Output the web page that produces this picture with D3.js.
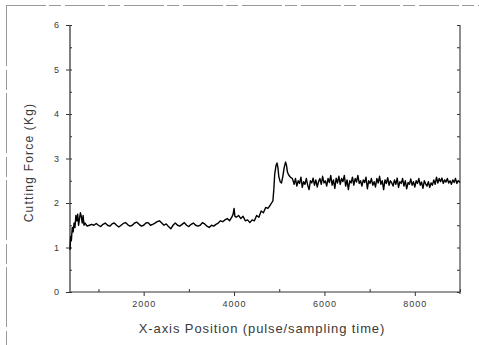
<!DOCTYPE html>
<html><head><meta charset="utf-8">
<script src="https://cdn.jsdelivr.net/npm/d3@7"></script>
<style>
html,body{margin:0;padding:0;background:#fff;}
svg{display:block;}
text{font-family:"Liberation Sans",Arial,sans-serif;fill:#3a3a3a;}
</style></head>
<body>
<svg id="chart" width="479" height="345"></svg>
<script>
// ---- data ----
const xTicks = [2000, 4000, 6000, 8000];
const xMinorTicks = [1000, 3000, 5000, 7000, 9000];
const yTicks = [0, 1, 2, 3, 4, 5, 6];
const yMinorTicks = [0.5, 1.5, 2.5, 3.5, 4.5, 5.5];
const xTitle = "X-axis Position (pulse/sampling time)";
const yTitle = "Cutting Force (Kg)";

// smooth/transition part
const posA = [370,385,400,420,440,460,480,500,520,540,560,580,600,620,640,660,680,700,750,800,850,900,950,1000,1050,1100,1150,1200,1250,1300,1350,1400,1450,1500,1550,1600,1650,1700,1750,1800,1850,1900,1950,2000,2050,2100,2150,2200,2250,2300,2350,2400,2450,2500,2550,2600,2650,2700,2750,2800,2850,2900,2950,3000,3050,3100,3150,3200,3250,3300,3350,3400,3450,3500,3550,3600,3650,3700,3750,3800,3850,3900,3950,3980,4000,4020,4050,4100,4150,4200,4250,4300,4350,4400,4450,4500,4550,4600,4650,4700,4750,4800,4830,4860,4880,4900,4930,4950,4970,4990,5020,5050,5080,5110,5140,5160,5180,5200,5230,5260,5290];
const forceA = [0.95,1.25,1.15,1.45,1.35,1.55,1.45,1.72,1.6,1.75,1.5,1.65,1.78,1.7,1.55,1.72,1.5,1.55,1.48,1.5,1.52,1.5,1.54,1.5,1.47,1.52,1.55,1.5,1.48,1.53,1.55,1.5,1.46,1.5,1.54,1.56,1.51,1.48,1.5,1.55,1.57,1.52,1.48,1.5,1.55,1.56,1.5,1.52,1.55,1.58,1.6,1.55,1.5,1.53,1.47,1.42,1.5,1.55,1.5,1.48,1.52,1.56,1.5,1.47,1.52,1.55,1.5,1.48,1.5,1.56,1.53,1.48,1.45,1.5,1.48,1.52,1.55,1.6,1.58,1.62,1.65,1.6,1.68,1.75,1.88,1.7,1.68,1.72,1.65,1.7,1.6,1.62,1.56,1.62,1.6,1.72,1.68,1.82,1.78,1.9,1.88,1.95,2.0,2.05,2.3,2.65,2.85,2.9,2.8,2.6,2.48,2.45,2.6,2.8,2.92,2.85,2.7,2.65,2.6,2.57,2.55];

// noisy steady-state part
const posB = [5300,5330,5360,5390,5420,5450,5480,5510,5540,5570,5600,5630,5660,5690,5720,5750,5780,5810,5840,5870,5900,5930,5960,5990,6020,6050,6080,6110,6140,6170,6200,6230,6260,6290,6320,6350,6380,6410,6440,6470,6500,6530,6560,6590,6620,6650,6680,6710,6740,6770,6800,6830,6860,6890,6920,6950,6980,7010,7040,7070,7100,7130,7160,7190,7220,7250,7280,7310,7340,7370,7400,7430,7460,7490,7520,7550,7580,7610,7640,7670,7700,7730,7760,7790,7820,7850,7880,7910,7940,7970,8000,8030,8060,8090,8120,8150,8180,8210,8240,8270,8300,8330,8360,8390,8420,8450,8480,8510,8540,8570,8600,8630,8660,8690,8720,8750,8780,8810,8840,8870,8900,8930,8960,8990,9000];
const forceB = [2.52,2.42,2.55,2.38,2.5,2.44,2.58,2.35,2.48,2.42,2.55,2.4,2.3,2.5,2.45,2.56,2.4,2.52,2.36,2.48,2.55,2.42,2.6,2.45,2.5,2.38,2.55,2.46,2.62,2.4,2.52,2.33,2.56,2.45,2.6,2.42,2.55,2.48,2.62,2.38,2.52,2.3,2.5,2.45,2.58,2.4,2.55,2.47,2.62,2.44,2.5,2.38,2.52,2.46,2.58,2.32,2.5,2.44,2.55,2.4,2.48,2.36,2.55,2.45,2.6,2.42,2.5,2.3,2.52,2.44,2.57,2.4,2.5,2.45,2.38,2.52,2.42,2.56,2.35,2.48,2.44,2.55,2.38,2.5,2.32,2.46,2.42,2.54,2.4,2.48,2.36,2.5,2.44,2.55,2.4,2.47,2.33,2.5,2.43,2.38,2.48,2.35,2.45,2.4,2.52,2.42,2.58,2.45,2.55,2.48,2.56,2.44,2.52,2.47,2.55,2.45,2.5,2.42,2.52,2.46,2.55,2.44,2.5,2.47,2.48];

// ---- drawing ----
const svg = d3.select("#chart");
const L = 70, R = 460, T = 25, B = 292;
const x = d3.scaleLinear().domain([370, 9000]).range([L, R]);
const y = d3.scaleLinear().domain([0, 6]).range([B, T]);

// outer scan frame
svg.append("line").attr("x1",6).attr("x2",479).attr("y1",5.5).attr("y2",5.5)
  .attr("stroke","#999").attr("stroke-dasharray","40,3,12,4");
svg.append("line").attr("x1",6.5).attr("x2",6.5).attr("y1",6).attr("y2",345)
  .attr("stroke","#999").attr("stroke-dasharray","60,4,20,3");

const axisColor = "#333";
// bottom axis
const gx = svg.append("g").attr("transform",`translate(0,${B})`);
gx.call(d3.axisBottom(x).tickValues(xTicks).tickSize(4).tickFormat(d3.format("d")));
gx.select(".domain").remove();
gx.append("line").attr("x1",L).attr("x2",R).attr("stroke",axisColor).attr("stroke-width",1);
gx.selectAll(".tick line").attr("stroke",axisColor);
gx.selectAll(".tick text").attr("dy","0.9em").style("font-size","9px").style("letter-spacing","1px").attr("fill","#444").style("font-family","'Liberation Sans',Arial,sans-serif");
const gxm = svg.append("g").attr("transform",`translate(0,${B})`);
gxm.call(d3.axisTop(x).tickValues(xMinorTicks).tickSize(3).tickFormat(""));
gxm.select(".domain").remove();
gxm.selectAll(".tick line").attr("stroke",axisColor);

// left axis
const gy = svg.append("g").attr("transform",`translate(${L},0)`);
gy.call(d3.axisLeft(y).tickValues(yTicks).tickSize(4).tickPadding(7).tickFormat(d3.format("d")));
gy.select(".domain").remove();
gy.append("line").attr("y1",T).attr("y2",B).attr("stroke","#555").attr("stroke-width",1.5);
gy.selectAll(".tick line").attr("stroke",axisColor);
gy.selectAll(".tick text").style("font-size","9px").attr("fill","#444").style("font-family","'Liberation Sans',Arial,sans-serif");
const gym = svg.append("g").attr("transform",`translate(${L},0)`);
gym.call(d3.axisRight(y).tickValues(yMinorTicks.concat(yTicks)).tickSize(2).tickFormat(""));
gym.select(".domain").remove();
gym.selectAll(".tick line").attr("stroke",axisColor);

// right axis
const gr = svg.append("g").attr("transform",`translate(${R},0)`);
gr.call(d3.axisLeft(y).tickValues(yTicks.concat(yMinorTicks)).tickSize(3).tickFormat(""));
gr.select(".domain").remove();
gr.append("line").attr("y1",T).attr("y2",B+2).attr("stroke","#444").attr("stroke-width",1.2);
gr.selectAll(".tick line").attr("stroke",axisColor);

// data line
const pts = posA.map((p,i)=>[p, forceA[i]]).concat(posB.map((p,i)=>[p, forceB[i]]));
const line = d3.line().x(d=>x(d[0])).y(d=>y(d[1]));
svg.append("path").datum(pts).attr("d",line)
  .attr("fill","none").attr("stroke","#000").attr("stroke-width",1.4).attr("stroke-linejoin","round");

// titles
svg.append("text").attr("x",(L+R)/2 - 3).attr("y",333).attr("text-anchor","middle")
  .style("font-size","13px").style("letter-spacing","0.9px").text(xTitle);
svg.append("text").attr("transform",`translate(33,${(T+B)/2 + 4}) rotate(-90)`).attr("text-anchor","middle")
  .style("font-size","12px").style("letter-spacing","1.2px").text(yTitle);
</script>
</body></html>
